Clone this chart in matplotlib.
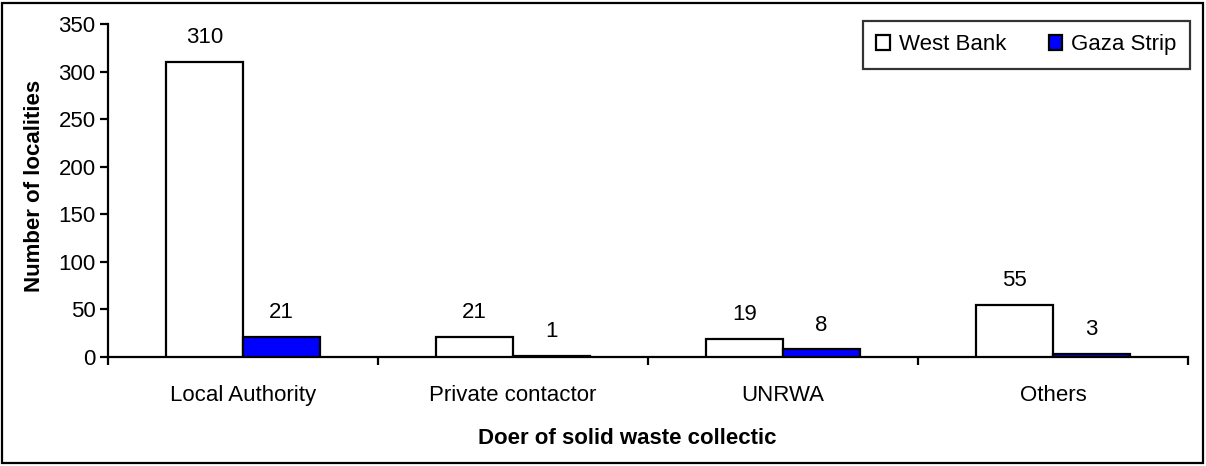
import numpy as np
import matplotlib.pyplot as plt
from matplotlib.patches import Rectangle

plt.rcParams['font.family'] = ['Liberation Sans', 'DejaVu Sans']

categories = ['Local Authority', 'Private contactor', 'UNRWA', 'Others']
west_bank = [310, 21, 19, 55]
gaza_strip = [21, 1, 8, 3]
series_names = ['West Bank', 'Gaza Strip']
yticks = [0, 50, 100, 150, 200, 250, 300, 350]

W, H = 1206, 466
fig = plt.figure(figsize=(W / 100, H / 100), dpi=100)
ax = fig.add_axes([108 / W, 1 - 357 / H, 1080 / W, 333 / H])

x = np.arange(len(categories))
bw = 0.285
fs = 16

b1 = ax.bar(x - bw / 2, west_bank, bw, color='white', edgecolor='black', linewidth=1.6,
            label=series_names[0], zorder=3)
b2 = ax.bar(x + bw / 2, gaza_strip, bw, color='#0000FF', edgecolor='black', linewidth=1.6,
            label=series_names[1], zorder=3)

for bars, vals in ((b1, west_bank), (b2, gaza_strip)):
    for rect, v in zip(bars, vals):
        ax.annotate(str(v), (rect.get_x() + rect.get_width() / 2, v),
                    xytext=(0, 17.5), textcoords='offset points',
                    ha='center', va='center', fontsize=fs)

ax.set_xlim(-0.5, len(categories) - 0.5)
ax.set_ylim(0, 350)
ax.set_yticks(yticks)
ax.tick_params(axis='y', labelsize=fs, length=6, width=1.6, pad=3, direction='out')

# category boundaries as ticks, names as minor labels
ax.set_xticks(np.arange(len(categories) + 1) - 0.5)
ax.set_xticklabels([])
ax.set_xticks(x, minor=True)
ax.set_xticklabels(categories, minor=True, fontsize=fs)
ax.tick_params(axis='x', which='major', length=6, width=1.6, direction='out')
ax.tick_params(axis='x', which='minor', length=0, pad=20)

for s in ('top', 'right'):
    ax.spines[s].set_visible(False)
for s in ('left', 'bottom'):
    ax.spines[s].set_linewidth(1.6)

leg = ax.legend(loc='upper right', bbox_to_anchor=(1190 / W, 1 - 21 / H),
                bbox_transform=fig.transFigure, ncol=2, fontsize=fs,
                frameon=True, fancybox=False, edgecolor='black',
                handlelength=0.62, handleheight=0.62, handletextpad=0.4,
                columnspacing=1.9, borderpad=0.6, borderaxespad=0)
leg.get_frame().set_linewidth(1.6)

fig.text(478 / W, 1 - 439 / H, 'Doer of solid waste collectic', fontsize=fs,
         fontweight='bold', ha='left', va='center')
fig.text(35 / W, 1 - 186 / H, 'Number of localities', fontsize=fs,
         fontweight='bold', ha='center', va='center', rotation=90)

# outer chart border
fig.patches.append(Rectangle((2 / W, 3 / H), 1201 / W, 460 / H, transform=fig.transFigure,
                             fill=False, edgecolor='black', linewidth=1.6))

fig.savefig('out.png', dpi=100)
